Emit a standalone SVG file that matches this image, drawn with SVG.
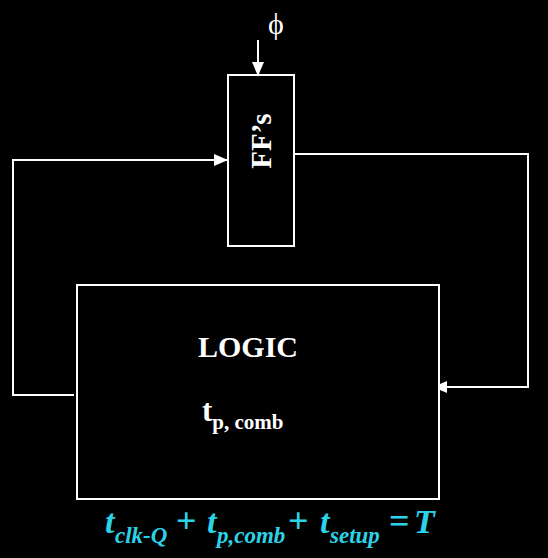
<svg xmlns="http://www.w3.org/2000/svg" width="548" height="558" viewBox="0 0 548 558">
<defs>
<style>
.ln{fill:none;stroke:#ffffff;stroke-width:2}
.box{fill:#000000;stroke:#ffffff;stroke-width:2}
.lbl{font-family:"Liberation Serif","Times New Roman",serif;font-weight:bold;fill:#ffffff}
.phi{font-family:"Liberation Serif","Times New Roman",serif;font-weight:normal;fill:#ffffff}
.eq{font-family:"Liberation Serif","Times New Roman",serif;font-weight:bold;fill:#2cd3e8}
</style>
<marker id="ah" markerWidth="14" markerHeight="12" refX="13" refY="6" orient="auto" markerUnits="userSpaceOnUse">
<path d="M0,0 L14,6 L0,12 Z" fill="#ffffff"/>
</marker>
</defs>
<rect width="548" height="558" fill="#000000"/>
<g id="connectors">
<line class="ln" x1="258" y1="40" x2="258" y2="75" marker-end="url(#ah)"/>
<polyline class="ln" points="74,395 13,395 13,160 227,160" marker-end="url(#ah)"/>
<polyline class="ln" points="294,154 528,154 528,387 434,387" marker-end="url(#ah)"/>
</g>
<g id="phi">
<text class="phi" x="276" y="34" font-size="30" text-anchor="middle">ϕ</text>
</g>
<g id="ffs">
<rect class="box" x="228" y="75" width="66" height="171"/>
<text class="lbl" x="0" y="0" font-size="29" text-anchor="middle" transform="translate(271,141) rotate(-90)">FF’s</text>
</g>
<g id="logic">
<rect class="box" x="77" y="285" width="362" height="214"/>
<text class="lbl" x="248" y="357" font-size="30" text-anchor="middle">LOGIC</text>
<text class="lbl" x="202" y="421" font-size="31">t<tspan font-size="21" dy="8">p, comb</tspan></text>
</g>
<g id="equation">
<text class="eq" y="533" font-size="34"><tspan x="105" font-style="italic">t</tspan><tspan x="115" dy="10" font-size="23" font-style="italic">clk-Q</tspan><tspan x="176" dy="-10" font-size="36">+</tspan><tspan x="207" font-style="italic">t</tspan><tspan x="217" dy="10" font-size="23" font-style="italic">p,comb</tspan><tspan x="288" dy="-10" font-size="36">+</tspan><tspan x="320" font-style="italic">t</tspan><tspan x="330" dy="10" font-size="23" font-style="italic">setup</tspan><tspan x="389" dy="-10" font-size="36">=</tspan><tspan x="414" font-style="italic">T</tspan></text>
</g>
</svg>
